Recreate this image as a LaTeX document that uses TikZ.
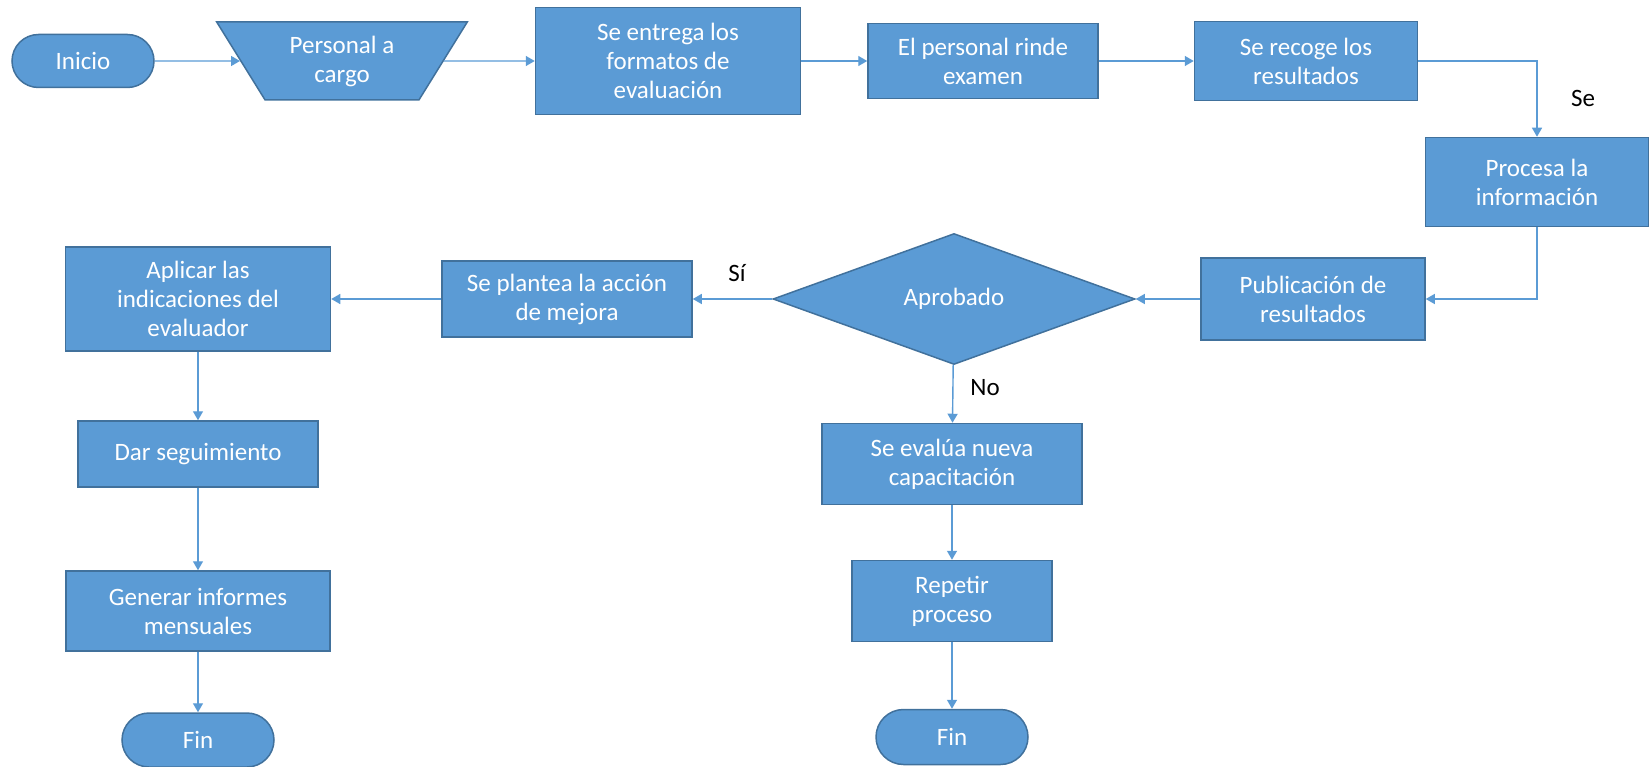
\documentclass[tikz,border=0pt]{standalone}
\usepackage{fontspec}
\setmainfont{Carlito}
\usetikzlibrary{shapes.geometric,shapes.misc,arrows.meta}
\definecolor{boxfill}{HTML}{5B9BD5}
\definecolor{boxline}{HTML}{41719C}
\definecolor{flowline}{HTML}{5B9BD5}

\begin{document}
\begin{tikzpicture}[x=1pt,y=-1pt,
    proc/.style={rectangle, draw=boxline, fill=boxfill, line width=1.5pt, text=white, align=center, inner sep=0pt, font=\fontsize{25}{29}\selectfont},
    term/.style={proc, rounded rectangle},
    flow/.style={draw=flowline, line width=1.4pt, -{Triangle[length=9pt,width=10pt]}},
    lbl/.style={font=\fontsize{25}{29}\selectfont, text=black, inner sep=0pt}]
    \useasboundingbox (0,0) rectangle (1652,767);

    % fila superior
    \node[term, minimum width=142, minimum height=53] (inicio) at (83,61) {Inicio};
    \node[proc, trapezium, trapezium stretches=true, shape border rotate=180, trapezium left angle=57, trapezium right angle=57, minimum width=251, minimum height=78] (personal) at (342,61) {Personal a\\cargo};
    \node[proc, minimum width=265, minimum height=107] (entrega) at (668,61) {Se entrega los\\formatos de\\evaluación};
    \node[proc, minimum width=230, minimum height=75] (examen) at (983,61) {El personal rinde\\examen};
    \node[proc, minimum width=223, minimum height=79] (recoge) at (1306,61) {Se recoge los\\resultados};
    \node[proc, minimum width=223, minimum height=89] (procesa) at (1537,182) {Procesa la\\información};

    % fila central
    \node[proc, minimum width=224, minimum height=82] (publicacion) at (1313,299) {Publicación de\\resultados};
    \node[proc, diamond, minimum width=362, minimum height=131] (aprobado) at (954,299) {Aprobado};
    \node[proc, minimum width=250, minimum height=76] (plantea) at (567,299) {Se plantea la acción\\de mejora};
    \node[proc, minimum width=265, minimum height=104] (aplicar) at (198,299) {Aplicar las\\indicaciones del\\evaluador};

    % columna izquierda
    \node[proc, minimum width=240, minimum height=66] (seguimiento) at (198,454) {Dar seguimiento};
    \node[proc, minimum width=264, minimum height=80] (informes) at (198,611) {Generar informes\\mensuales};
    \node[term, minimum width=152, minimum height=54] (fin1) at (198,740) {Fin};

    % columna derecha
    \node[proc, minimum width=260, minimum height=81] (evalua) at (952,464) {Se evalúa nueva\\capacitación};
    \node[proc, minimum width=200, minimum height=81] (repetir) at (952,601) {Repetir\\proceso};
    \node[term, minimum width=152, minimum height=55] (fin2) at (952,737) {Fin};

    % etiquetas
    \node[lbl] (se) at (1583,98) {Se};
    \node[lbl] (si) at (737,273) {Sí};
    \node[lbl] (no) at (985,388) {No};

    \draw[flow] (inicio) -- (personal);
    \draw[flow] (personal) -- (entrega);
    \draw[flow] (entrega) -- (examen);
    \draw[flow] (examen) -- (recoge);
    \draw[flow] (recoge.east) -| (procesa.north);
    \draw[flow] (procesa.south) |- (publicacion.east);
    \draw[flow] (publicacion) -- (aprobado);
    \draw[flow] (aprobado) -- (plantea);
    \draw[flow] (plantea) -- (aplicar);
    \draw[flow] (aprobado) -- (evalua);
    \draw[flow] (evalua) -- (repetir);
    \draw[flow] (repetir) -- (fin2);
    \draw[flow] (aplicar) -- (seguimiento);
    \draw[flow] (seguimiento) -- (informes);
    \draw[flow] (informes) -- (fin1);
\end{tikzpicture}
\end{document}
